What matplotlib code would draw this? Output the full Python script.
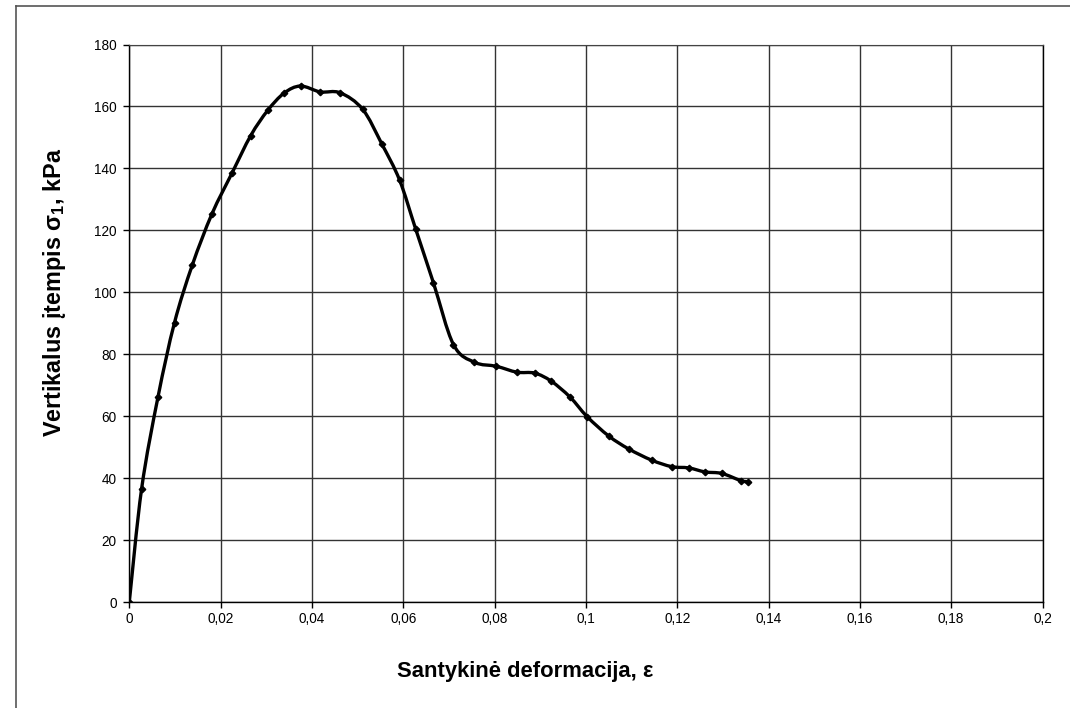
import numpy as np
import matplotlib
matplotlib.use("Agg")
import matplotlib.pyplot as plt
from matplotlib.path import Path
from matplotlib.patches import PathPatch
from matplotlib.lines import Line2D

plt.rcParams['font.family'] = ['Liberation Sans', 'DejaVu Sans']
plt.rcParams['mathtext.fontset'] = 'custom'
plt.rcParams['mathtext.rm'] = 'Liberation Sans'
plt.rcParams['mathtext.bf'] = 'Liberation Sans:bold'

# Data
strain = [0.0, 0.0027, 0.0063, 0.0099, 0.0138, 0.0181, 0.0225, 0.0266, 0.0303,
          0.0339, 0.0375, 0.0418, 0.0462, 0.0511, 0.0553, 0.0592, 0.0627, 0.0666,
          0.0710, 0.0756, 0.0804, 0.0849, 0.0888, 0.0924, 0.0965, 0.1003, 0.1050,
          0.1094, 0.1144, 0.1188, 0.1225, 0.1261, 0.1298, 0.1339, 0.1355]
stress = [0.0, 36.6, 66.3, 90.2, 108.8, 125.3, 138.5, 150.6, 158.7,
          164.3, 166.6, 164.7, 164.4, 159.1, 147.9, 136.2, 120.5, 103.1,
          83.1, 77.4, 76.1, 74.2, 73.9, 71.3, 66.2, 59.8, 53.6,
          49.4, 45.8, 43.7, 43.3, 42.0, 41.5, 39.2, 38.8]

x_ticks = [0, 0.02, 0.04, 0.06, 0.08, 0.1, 0.12, 0.14, 0.16, 0.18, 0.2]
x_tick_labels = ['0', '0,02', '0,04', '0,06', '0,08', '0,1', '0,12', '0,14', '0,16', '0,18', '0,2']
y_ticks = [0, 20, 40, 60, 80, 100, 120, 140, 160, 180]

W, H = 1070, 708
L, R, T, B = 129.3, 1042.5, 44.5, 602.0

fig = plt.figure(figsize=(W / 100, H / 100), dpi=100)
ax = fig.add_axes([L / W, 1 - B / H, (R - L) / W, (B - T) / H])

# Smoothed line (Catmull-Rom style, rendered as cubic Bezier through the data points)
x = np.array(strain)
y = np.array(stress)
n = len(x)
verts = [(x[0], y[0])]
codes = [Path.MOVETO]
t = 1.0 / 6.0
for i in range(n - 1):
    p0 = np.array([x[max(i - 1, 0)], y[max(i - 1, 0)]])
    p1 = np.array([x[i], y[i]])
    p2 = np.array([x[i + 1], y[i + 1]])
    p3 = np.array([x[min(i + 2, n - 1)], y[min(i + 2, n - 1)]])
    c1 = p1 + (p2 - p0) * t
    c2 = p2 - (p3 - p1) * t
    verts += [tuple(c1), tuple(c2), tuple(p2)]
    codes += [Path.CURVE4] * 3
patch = PathPatch(Path(verts, codes), facecolor='none', edgecolor='black',
                  linewidth=2.4, capstyle='round', joinstyle='round', zorder=3)
ax.add_patch(patch)
ax.plot(strain, stress, linestyle='none', marker='D', markersize=3.3,
        color='black', zorder=4)

ax.set_xlim(0, 0.2)
ax.set_ylim(0, 180)
ax.set_xticks(x_ticks)
ax.set_xticklabels(x_tick_labels)
ax.set_yticks(y_ticks)
ax.grid(True, color='#333333', linewidth=1.0)
ax.set_axisbelow(True)
for s in ['left', 'bottom', 'right']:
    ax.spines[s].set_color('black')
    ax.spines[s].set_linewidth(1.0)
ax.spines['top'].set_color('#444444')
ax.tick_params(axis='both', direction='out', length=4, width=1, labelsize=9.8,
               colors='black', pad=3)
ax.tick_params(axis='y', pad=5)

ax.set_xlabel('Santykinė deformacija, ε', fontsize=15.8, fontweight='bold')
ax.xaxis.set_label_coords((525 - L) / (R - L), -(672 - B) / (B - T), transform=ax.transAxes)
ax.xaxis.label.set_verticalalignment('center')
ax.set_ylabel(r'Vertikalus įtempis σ$_\mathbf{1}$, kPa', fontsize=16.8, fontweight='bold')
ax.yaxis.set_label_coords(-(L - 55) / (R - L), (B - 292) / (B - T), transform=ax.transAxes)
ax.yaxis.label.set_verticalalignment('center')

# outer border (top and left)
fig.add_artist(Line2D([15.5 / W, 1.0], [1 - 5.5 / H, 1 - 5.5 / H],
                      transform=fig.transFigure, color='#555555', linewidth=1.2))
fig.add_artist(Line2D([15.5 / W, 15.5 / W], [0.0, 1 - 5.5 / H],
                      transform=fig.transFigure, color='#555555', linewidth=1.2))

fig.savefig('out.png', dpi=100)
